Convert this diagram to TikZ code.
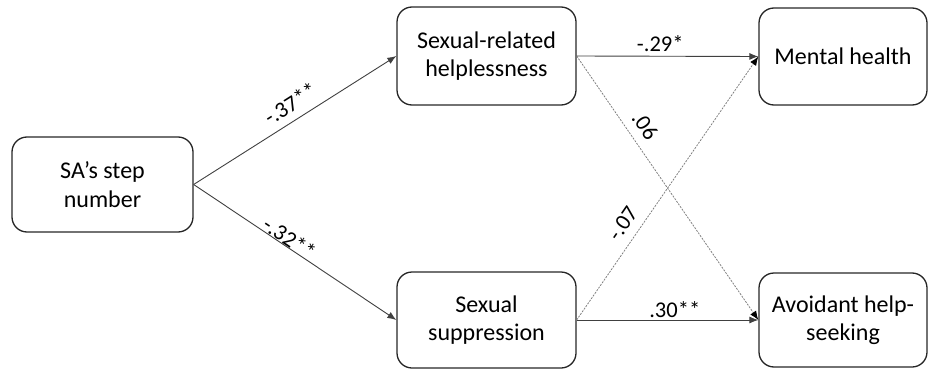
\documentclass[tikz,border=0pt]{standalone}
\usepackage{fontspec}
\setmainfont{Carlito}
\usetikzlibrary{arrows.meta}
\begin{document}
\begin{tikzpicture}[x=1pt,y=-1pt,
  box/.style={draw=black!85, line width=1.3pt, rounded corners=15pt, inner sep=0pt,
    align=center, font=\fontsize{24}{28.3}\selectfont},
  path/.style={draw=black!75, line width=0.9pt, -{Latex[length=9pt,width=7pt]}},
  nspath/.style={draw=black!50, line width=0.8pt, dash pattern=on 2pt off 1.2pt,
    -{Latex[length=9pt,width=7pt,fill=black,color=black]}},
  lab/.style={font=\fontsize{22.5}{26}\selectfont, inner sep=0pt, sloped}]
\useasboundingbox (0,0) rectangle (928,369);
\node[box, minimum width=181pt, minimum height=95pt] (sa) at (102.5,184.5) {SA’s step\\number};
\node[box, minimum width=179pt, minimum height=98pt] (hl) at (486.5,56) {Sexual-related\\helplessness};
\node[box, minimum width=179pt, minimum height=96pt] (ss) at (486.5,320) {Sexual\\suppression};
\node[box, minimum width=168pt, minimum height=97pt] (mh) at (843,56.5) {Mental health};
\node[box, minimum width=168pt, minimum height=94pt] (ah) at (843,320) {Avoidant help-\\seeking};
\draw[nspath] (hl.east) -- node[lab, pos=0.30, above=9pt] {.06} (ah.west);
\draw[nspath] (ss.east) -- node[lab, pos=0.33, above=9pt] {-.07} (mh.west);
\draw[path] (sa.east) -- node[lab, pos=0.52, above=8pt] {-.37**} (hl.west);
\draw[path] (sa.east) -- node[lab, pos=0.45, above=0pt] {-.32**} (ss.west);
\draw[path] (hl.east) -- node[lab, pos=0.46, above=4pt] {-.29*} (mh.west);
\draw[path] (ss.east) -- node[lab, pos=0.54, above=2pt] {.30**} (ah.west);
\end{tikzpicture}
\end{document}
